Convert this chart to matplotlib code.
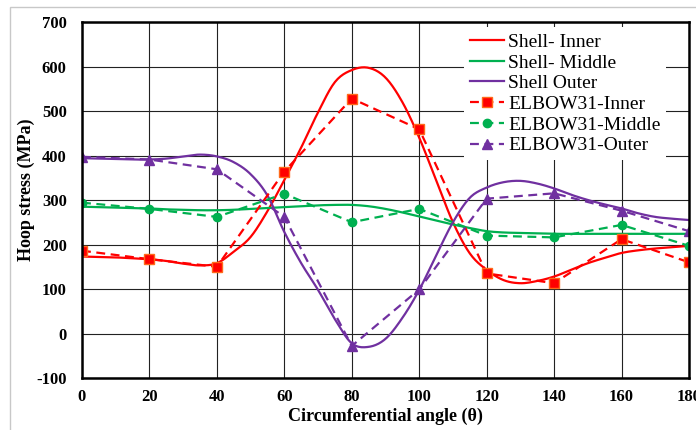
import matplotlib
matplotlib.use("Agg")
import numpy as np
import matplotlib.pyplot as plt
from matplotlib.patches import Rectangle

plt.rcParams['font.family'] = ['Liberation Serif', 'DejaVu Serif']
plt.rcParams['axes.unicode_minus'] = False

# FE shell results along the circumference
shell_angle = list(range(0, 181, 5))
shell_inner = [173, 172, 171, 169, 167, 163, 157, 153, 158, 184, 217, 275, 345,
               418, 497, 565, 592, 597, 575, 520, 440, 345, 250, 180, 143, 120,
               113, 118, 128, 143, 158, 170, 181, 187, 191, 194, 197]
shell_middle = [285, 284, 283, 282, 281, 279, 278, 277, 277, 278, 280, 282, 284,
                286, 288, 289, 289, 286, 280, 272, 263, 254, 245, 237, 230, 227,
                226, 225, 224, 224, 224, 224, 224, 224, 224, 224, 224]
shell_outer = [394, 393, 392, 391, 391, 393, 398, 402, 398, 385, 358, 310, 228,
               158, 98, 32, -22, -30, -12, 35, 98, 175, 250, 305, 328, 340,
               343, 337, 326, 312, 300, 290, 281, 270, 262, 258, 255]

# ELBOW31 element results every 20 degrees
elbow_angle = [0, 20, 40, 60, 80, 100, 120, 140, 160, 180]
elbow_inner = [186, 167, 150, 364, 528, 459, 135, 113, 212, 160]
elbow_middle = [294, 280, 262, 314, 250, 280, 220, 216, 244, 197]
elbow_outer = [397, 391, 369, 262, -28, 99, 303, 315, 276, 230]

red = '#ff0000'
green = '#00b050'
purple = '#7030a0'


def smooth(x, y, n=12):
    # Catmull-Rom curve through the points (like a spreadsheet "smoothed line")
    out = []
    for p in (np.asarray(x, float), np.asarray(y, float)):
        p = np.concatenate([[2 * p[0] - p[1]], p, [2 * p[-1] - p[-2]]])
        t = np.linspace(0, 1, n, endpoint=False)[:, None]
        p0, p1, p2, p3 = p[:-3], p[1:-2], p[2:-1], p[3:]
        c = 0.5 * ((2 * p1) + (-p0 + p2) * t + (2 * p0 - 5 * p1 + 4 * p2 - p3) * t ** 2
                   + (-p0 + 3 * p1 - 3 * p2 + p3) * t ** 3)
        out.append(np.append(c.T.ravel(), p[-2]))
    return out


fig = plt.figure(figsize=(6.96, 4.30), dpi=100)
fig.patches.append(Rectangle((10 / 696, -0.05), 1.0, 1 - 7 / 430 + 0.05,
                             transform=fig.transFigure, fill=False,
                             edgecolor='#c8c8c8', linewidth=1.0))
ax = fig.add_axes([82 / 696, 1 - 378 / 430, 607 / 696, 356 / 430])

ax.plot(*smooth(shell_angle, shell_inner), color=red, lw=1.6, label='Shell- Inner')
ax.plot(*smooth(shell_angle, shell_middle), color=green, lw=1.6, label='Shell- Middle')
ax.plot(*smooth(shell_angle, shell_outer), color=purple, lw=1.6, label='Shell Outer')

dash = (0, (4, 2.5))
ax.plot(elbow_angle, elbow_inner, color=red, lw=1.6, ls=dash, marker='s',
        ms=6.5, mfc=red, mec='#ff6a1a', label='ELBOW31-Inner')
ax.plot(elbow_angle, elbow_middle, color=green, lw=1.6, ls=dash, marker='o',
        ms=6, mfc=green, mec=green, label='ELBOW31-Middle')
ax.plot(elbow_angle, elbow_outer, color=purple, lw=1.6, ls=dash, marker='^',
        ms=7, mfc=purple, mec=purple, label='ELBOW31-Outer')

ax.set_xlim(0, 180)
ax.set_ylim(-100, 700)
ax.set_xticks(range(0, 181, 20))
ax.set_yticks(range(-100, 701, 100))
ax.grid(True, color='#222222', lw=0.8)
ax.set_axisbelow(True)
ax.tick_params(axis='y', length=0, pad=11)
ax.tick_params(axis='x', length=0, pad=8)
for lab in ax.get_xticklabels() + ax.get_yticklabels():
    lab.set_fontweight('bold')
    lab.set_fontsize(12)
for sp in ax.spines.values():
    sp.set_linewidth(1.8)

ax.set_xlabel('Circumferential angle (\u03b8)', fontsize=13, fontweight='bold',
              labelpad=2)
ax.set_ylabel('Hoop stress (MPa)', fontsize=13, fontweight='bold')
ax.yaxis.set_label_coords(-0.078, 0.53)

leg = ax.legend(loc='upper left', bbox_to_anchor=(0.63, 0.985), fontsize=14,
                handlelength=1.75, handletextpad=0.2, labelspacing=0.16,
                borderpad=0.3, frameon=True, fancybox=False, framealpha=1,
                edgecolor='none', facecolor='white', borderaxespad=0)

fig.savefig('out.png', dpi=100)
